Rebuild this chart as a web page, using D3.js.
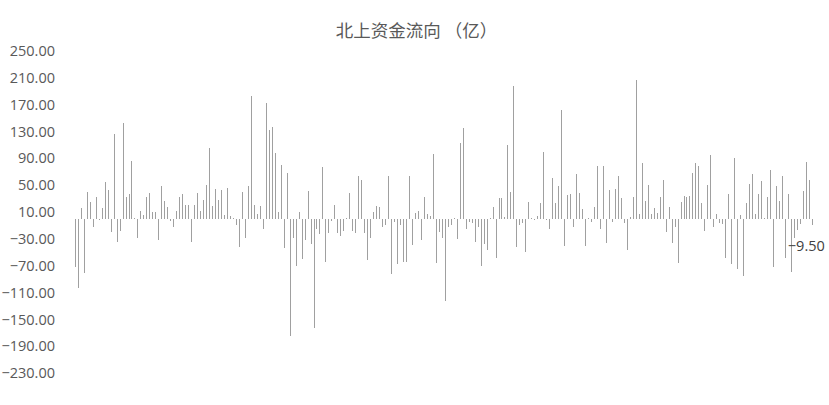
<!DOCTYPE html>
<html>
<head>
<meta charset="utf-8">
<script src="https://cdn.jsdelivr.net/npm/d3@7"></script>
<style>
  html, body { margin: 0; padding: 0; background: #fff; }
  svg { display: block; }
</style>
</head>
<body>
<div class="container"></div>
<script>
const title = "北上资金流向 （亿）";

// daily northbound net flow (亿)
const flows = [
  -71.5, -103, 16, -81, 40, 25, -13, 33, -1.5, 16, 54, 43, -20, 126, -35, -18, 143, 33, 37, 86,
  1, -28, 11, 6, 32, 38, 10, 10, -32, 48, 26, 17, -3, -13, 11, 33, 37, 20, 21, -34,
  21, 38, 11, 28, 50, 105, 19, 44, 28, 43, 5, 46, 4, 1.5, -9, -42, 40, -28, 49, 182,
  21, 6.5, 19, -15, 172, 132, 137, 98, 10, 80, -44, 68, -174, -28, -70, 10, -60, -31, 41, -37,
  -163, -16, -23, 77, -65, -21, -3, 21, -21, -25, -19, 1, 38, -18, -22, 64, 57, -22, -62, -29,
  10, 19, 17, -12, -10, 64, -82, -4.5, -67, -10, -65, -65, 64, -39, 9, 11, -32, 33, 7, 4,
  97, -66, -20, -28, -123, -13, -10, 0.5, -30, 113, 135, -16, -4.5, -6, -34, -12, -70, -38, -47, 1,
  17, -58, 31, 31, 2.5, 110, 40, 197, -42, -9, -6, -49, 25, 1.5, -1.5, 4, 23, 99, -1.5, -16,
  60, 24, 49, 162, -41, 36, 37, -12, 66, 38, 14, -40, 1, -4.5, 18, 79, -15, 78, -36, 43,
  -4.5, 44, 64, 31, -6, -46, 2.5, 32, 206, 7.5, 83, 26, 50, 7.5, 16, 8.5, 33, 57, -20, 18,
  -36, -13, -66, 25, 34, 32, 34, 68, 83, 78, 23, -19, 50, 95, -12, 6.5, -6.5, -8.5, -58, 37,
  -68, 90, -75, 5, -86, 23, 52, 66, 7.5, 37, 56, 1, 33, 72, -72, 49, 26, 64, -59, 37,
  -80, -28, -17, -8, 42, 84, 57, -9.5
];
const days = flows.map((d, i) => i + 1);

const yTicks = [250, 210, 170, 130, 90, 50, 10, -30, -70, -110, -150, -190, -230];

const width = 829;
const height = 405;

let svg = d3.select(".container").append("svg")
  .attr("width", width).attr("height", height);

let xScale = d3.scaleBand(days, [73.8, 813.8]);

let yScale = d3.scaleLinear([-230, 250], [373.2, 50.8]);

// title
svg.append("text")
  .attr("x", width / 2 + 2)
  .attr("y", 37)
  .attr("text-anchor", "middle")
  .attr("font-family", "'Noto Sans CJK SC', sans-serif")
  .attr("font-size", 17.5)
  .attr("fill", "#595959")
  .text(title);

// y axis, labels only
let yAxis = d3.axisLeft(yScale)
  .tickValues(yTicks)
  .tickFormat(d3.format(".2f"))
  .tickSize(0)
  .tickPadding(0);

let gY = svg.append("g")
  .attr("transform", "translate(55, 0)")
  .call(yAxis);
gY.select(".domain").remove();
gY.selectAll("text")
  .attr("font-family", "'Open Sans', 'Noto Sans', sans-serif")
  .attr("font-size", 14.5)
  .attr("fill", "#595959");

// bars
svg.append("g").selectAll("rect")
  .data(flows).enter().append("rect")
  .attr("x", (d, i) => Math.round(xScale(days[i]) + xScale.bandwidth() / 2 - 0.5))
  .attr("y", (d) => yScale(Math.max(0, d)))
  .attr("width", 1)
  .attr("height", (d) => Math.abs(yScale(d) - yScale(0)))
  .attr("fill", "#a0a0a0")
  .attr("shape-rendering", "crispEdges");

// label on the last bar
const last = flows.length - 1;
svg.append("text")
  .attr("x", xScale(days[last]) + xScale.bandwidth() / 2 - 6)
  .attr("y", yScale(flows[last]) + 26)
  .attr("text-anchor", "middle")
  .attr("font-family", "'Open Sans', 'Noto Sans', sans-serif")
  .attr("font-size", 14.5)
  .attr("fill", "#404040")
  .text(d3.format(".2f")(flows[last]));
</script>
</body>
</html>
